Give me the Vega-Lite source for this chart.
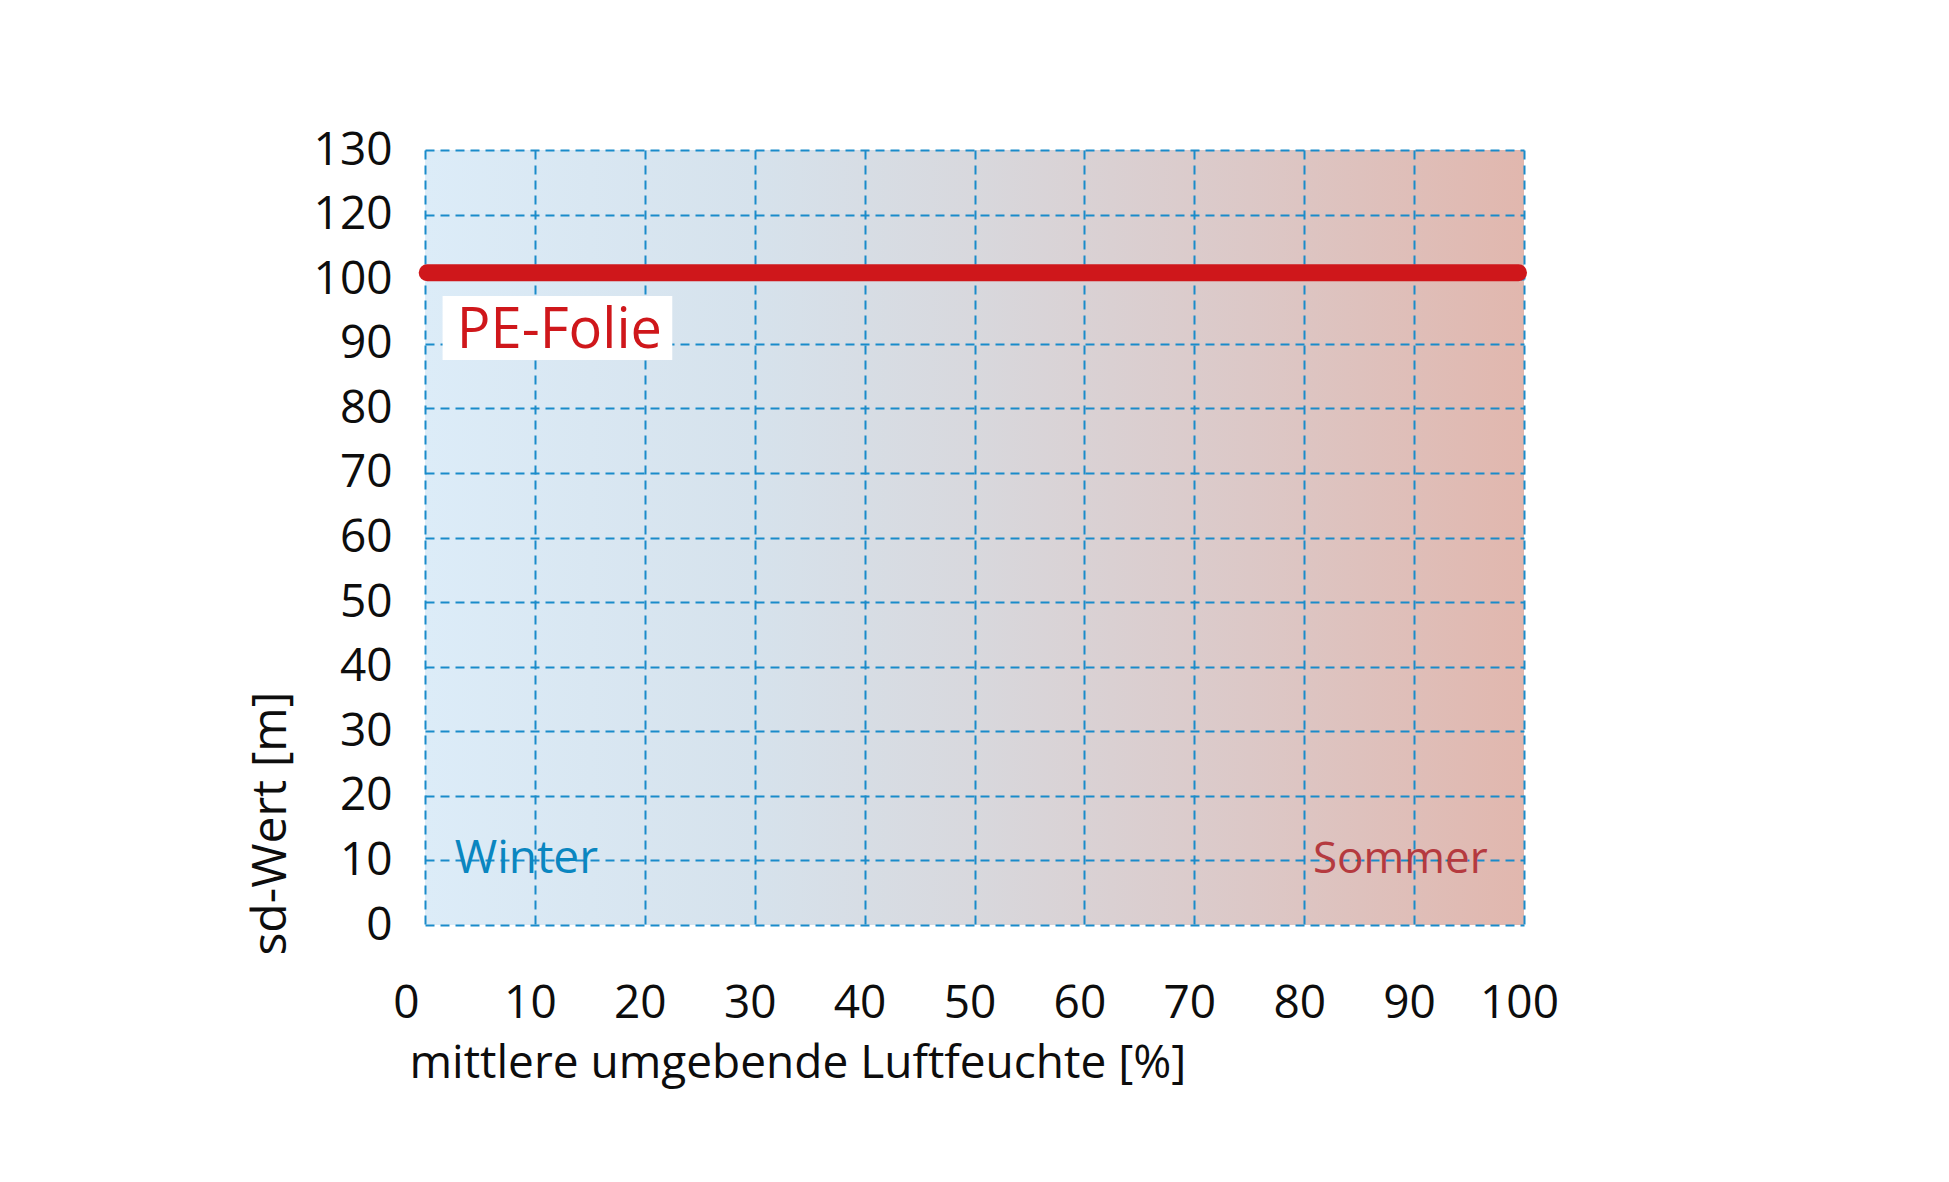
{
  "$schema": "https://vega.github.io/schema/vega-lite/v6.json",
  "autosize": {"type": "none"},
  "padding": {"left": 425, "top": 150, "right": 425, "bottom": 257},
  "width": 1099,
  "height": 775,
  "background": "white",
  "view": {
    "stroke": null,
    "fill": {
      "gradient": "linear",
      "x1": 0, "y1": 0, "x2": 1, "y2": 0,
      "stops": [
        {"offset": 0, "color": "#dcecf8"},
        {"offset": 0.3, "color": "#d6e2ec"},
        {"offset": 0.5, "color": "#d8d8dd"},
        {"offset": 0.75, "color": "#dcc8c7"},
        {"offset": 1, "color": "#e1b7ae"}
      ]
    }
  },
  "config": {
    "font": "Open Sans",
    "axis": {
      "domain": false,
      "ticks": false,
      "tickSize": 0,
      "grid": true,
      "gridColor": "#1a8bca",
      "gridWidth": 2,
      "gridDash": [9, 6],
      "gridOpacity": 1,
      "labelFont": "Open Sans",
      "labelFontSize": 46,
      "labelColor": "#0d0d0d",
      "titleFont": "Open Sans",
      "titleFontWeight": "normal",
      "titleColor": "#0d0d0d"
    }
  },
  "layer": [
    {
      "data": {
        "values": [
          {"feuchte": 0.2, "sd": 101},
          {"feuchte": 99.5, "sd": 101}
        ]
      },
      "mark": {"type": "line", "color": "#cf171b", "strokeWidth": 17, "strokeCap": "round"},
      "encoding": {
        "x": {
          "field": "feuchte",
          "type": "quantitative",
          "scale": {"domain": [0, 100], "nice": false},
          "axis": {
            "values": [0, 10, 20, 30, 40, 50, 60, 70, 80, 90, 100],
            "labelBaseline": "alphabetic",
            "labelPadding": 92,
            "labelOffset": {"condition": {"test": "datum.value === 0", "value": -19}, "value": -5},
            "labelFlush": false,
            "title": "mittlere umgebende Luftfeuchte [%]",
            "titleFontSize": 46,
            "titleAnchor": "start",
            "titleAlign": "left",
            "titleBaseline": "alphabetic",
            "titleX": -16,
            "titleY": 152
          }
        },
        "y": {
          "field": "sd",
          "type": "quantitative",
          "scale": {"domain": [0, 120], "nice": false},
          "axis": {
            "values": [0, 10, 20, 30, 40, 50, 60, 70, 80, 90, 100, 110, 120],
            "labelExpr": "datum.value >= 110 ? datum.value + 10 : datum.value",
            "labelBaseline": "middle",
            "labelPadding": 33,
            "labelFlush": false,
            "title": "sd-Wert [m]",
            "titleFontSize": 48,
            "titleAngle": 270,
            "titleAlign": "left",
            "titleBaseline": "alphabetic",
            "titleX": -140,
            "titleY": 805
          }
        }
      }
    },
    {
      "data": {"values": [{}]},
      "mark": {"type": "rect", "fill": "white"},
      "encoding": {
        "x": {"datum": 1.6, "type": "quantitative"},
        "x2": {"datum": 22.5},
        "y": {"datum": 87.5, "type": "quantitative"},
        "y2": {"datum": 97.4}
      }
    },
    {
      "data": {"values": [{"label": "PE-Folie"}]},
      "mark": {"type": "text", "color": "#cf171b", "fontSize": 56, "align": "left", "baseline": "alphabetic"},
      "encoding": {
        "x": {"datum": 2.9, "type": "quantitative"},
        "y": {"datum": 89.3, "type": "quantitative"},
        "text": {"field": "label"}
      }
    },
    {
      "data": {"values": [{"label": "Winter"}]},
      "mark": {"type": "text", "color": "#0a86c0", "fontSize": 46, "align": "left", "baseline": "alphabetic"},
      "encoding": {
        "x": {"datum": 2.7, "type": "quantitative"},
        "y": {"datum": 8.05, "type": "quantitative"},
        "text": {"field": "label"}
      }
    },
    {
      "data": {"values": [{"label": "Sommer"}]},
      "mark": {"type": "text", "color": "#b53a3f", "fontSize": 44, "align": "left", "baseline": "alphabetic"},
      "encoding": {
        "x": {"datum": 80.8, "type": "quantitative"},
        "y": {"datum": 8.05, "type": "quantitative"},
        "text": {"field": "label"}
      }
    }
  ]
}
